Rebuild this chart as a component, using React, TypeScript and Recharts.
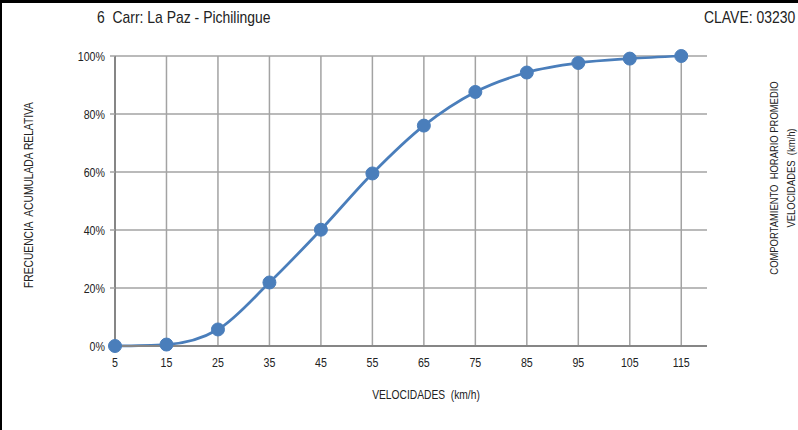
import { LineChart, Line, XAxis, YAxis, CartesianGrid, ReferenceLine } from 'recharts';

// velocidades (km/h) y frecuencia acumulada relativa (%)
const speeds = [5, 15, 25, 35, 45, 55, 65, 75, 85, 95, 105, 115];
const cumulative = [0, 0.5, 5.7, 21.9, 40.1, 59.5, 76, 87.6, 94.3, 97.6, 99.1, 100];
const yTicks = [0, 20, 40, 60, 80, 100];

const FONT = "'Liberation Sans', Arial, sans-serif";
const NARROW = 0.82; // imitate Arial Narrow
const GRID = '#a3a3a3';
const AXIS = '#868686';
const BLUE = '#4a7ebb';
const TEXT = '#222';

const chartData = speeds.map((s, i) => ({ speed: s, pct: cumulative[i] }));

const XTick = ({ x, y, payload }: any) => (
  <g transform={`translate(${x},${y})`}>
    <text transform={`scale(${NARROW},1)`} textAnchor="middle" dy={13} fontSize={13} fontFamily={FONT} fill={TEXT}>
      {payload.value}
    </text>
  </g>
);

const YTick = ({ x, y, payload }: any) => (
  <g transform={`translate(${x},${y})`}>
    <text transform={`scale(${NARROW},1)`} textAnchor="end" dy={4.5} fontSize={13} fontFamily={FONT} fill={TEXT}>
      {`${payload.value}%`}
    </text>
  </g>
);

const txt = (extra: any) => ({
  position: 'absolute' as const,
  color: TEXT,
  fontFamily: FONT,
  whiteSpace: 'pre' as const,
  ...extra,
});

export default function App() {
  return (
    <div style={{ position: 'absolute', left: 0, top: 0, width: 798, height: 430, background: '#fff', fontFamily: FONT }}>
      <LineChart
        width={798}
        height={430}
        data={chartData}
        margin={{ top: 56, right: 91, bottom: 54, left: 55 }}
      >
        <CartesianGrid stroke={GRID} strokeWidth={1.5} vertical={false} />
        {speeds.slice(1).map((s) => (
          <ReferenceLine key={s} x={s} stroke={GRID} strokeWidth={1.5} />
        ))}
        <XAxis
          dataKey="speed"
          type="number"
          domain={[5, 120]}
          ticks={speeds}
          height={30}
          axisLine={{ stroke: AXIS, strokeWidth: 2 }}
          tickLine={false}
          tick={<XTick />}
          tickMargin={2}
        />
        <YAxis
          type="number"
          domain={[0, 100]}
          ticks={yTicks}
          width={60}
          axisLine={{ stroke: AXIS, strokeWidth: 2 }}
          tickLine={{ stroke: GRID, strokeWidth: 1.5 }}
          tickSize={5}
          tickMargin={5}
          tick={<YTick />}
        />
        <Line
          type="monotone"
          dataKey="pct"
          stroke={BLUE}
          strokeWidth={2.75}
          dot={{ r: 6.5, fill: BLUE, stroke: BLUE, strokeWidth: 1 }}
          isAnimationActive={false}
        />
      </LineChart>

      <div style={{ position: 'absolute', left: 0, top: 0, width: 798, height: 3, background: '#000' }} />
      <div style={{ position: 'absolute', left: 0, top: 0, width: 2, height: 430, background: '#000' }} />

      <div style={txt({ left: 97, top: 8, fontSize: 17, transform: `scaleX(${NARROW})`, transformOrigin: 'left top' })}>
        {'6  Carr: La Paz - Pichilingue'}
      </div>
      <div style={txt({ right: 3, top: 8, fontSize: 17, transform: `scaleX(${NARROW})`, transformOrigin: 'right top' })}>
        {'CLAVE: 03230'}
      </div>
      <div
        style={txt({
          left: 426,
          top: 395,
          fontSize: 12.5,
          transform: `translate(-50%, -50%) scaleX(${NARROW})`,
        })}
      >
        {'VELOCIDADES  (km/h)'}
      </div>
      <div
        style={txt({
          left: 29,
          top: 195,
          fontSize: 12.5,
          transform: `translate(-50%, -50%) rotate(-90deg) scaleX(${NARROW})`,
        })}
      >
        {'FRECUENCIA  ACUMULADA RELATIVA'}
      </div>
      <div
        style={txt({
          left: 783,
          top: 178,
          fontSize: 11.5,
          lineHeight: '17px',
          textAlign: 'center',
          transform: `translate(-50%, -50%) rotate(-90deg) scaleX(${NARROW})`,
        })}
      >
        {'COMPORTAMIENTO  HORARIO PROMEDIO\nVELOCIDADES  (km/h)'}
      </div>
    </div>
  );
}
